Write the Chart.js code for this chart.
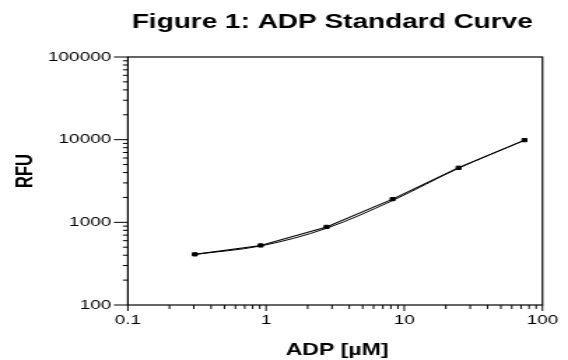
<!DOCTYPE html>
<html>
<head>
<meta charset="utf-8">
<script src="https://cdn.jsdelivr.net/npm/chart.js@4.4.1/dist/chart.umd.min.js"></script>
<style>
  html, body { margin: 0; padding: 0; background: #fff; overflow: hidden; }
</style>
</head>
<body>
<!-- the original figure is stretched sideways, so the canvas is too -->
<canvas id="chart" width="406" height="360" style="display:block;width:568px;height:360px"></canvas>
<script>
const adpConc = [0.305, 0.914, 2.74, 8.23, 24.7, 74.1];
const rfuMeasured = [410, 525, 880, 1910, 4570, 9870];
const rfuFit = [410, 518, 848, 1835, 4520, 9800];
const xTickLabels = ['0.1', '1', '10', '100'];
const yTickLabels = ['100', '1000', '10000', '100000'];
const chartTitle = 'Figure 1: ADP Standard Curve';
const xAxisTitle = 'ADP [µM]';
const yAxisTitle = 'RFU';

const FONT = '"Liberation Sans", Arial, Helvetica, sans-serif';

// decade ticks plus the 2..9 minor ones in between
function logTicks(labels) {
    const ticks = [];
    labels.forEach((lab, i) => {
        const v = parseFloat(lab);
        ticks.push({ value: v, major: true });
        if (i < labels.length - 1) {
            for (let k = 2; k <= 9; k++) {
                ticks.push({ value: +(v * k).toPrecision(6), major: false });
            }
        }
    });
    return ticks;
}

function labelFor(labels) {
    return (value) => labels.find(l => Math.abs(parseFloat(l) - value) < 1e-9 * value) || '';
}

const axisDecor = {
    id: 'axisDecor',
    afterDraw(chart) {
        const ctx = chart.ctx;
        const a = chart.chartArea;
        const xs = chart.scales.x;
        const ys = chart.scales.y;
        ctx.save();
        ctx.strokeStyle = '#000';
        ctx.lineWidth = 1.2;
        ctx.strokeRect(a.left, a.top, a.right - a.left, a.bottom - a.top);

        ctx.lineWidth = 1;
        ctx.beginPath();
        ys.ticks.forEach(t => {
            const y = ys.getPixelForValue(t.value);
            const len = t.major ? 10 : 3.6;
            ctx.moveTo(a.left - len, y);
            ctx.lineTo(a.left, y);
        });
        xs.ticks.forEach(t => {
            const x = xs.getPixelForValue(t.value);
            const len = t.major ? 6 : 4;
            ctx.moveTo(x, a.bottom);
            ctx.lineTo(x, a.bottom + len);
        });
        ctx.stroke();

        ctx.fillStyle = '#000';
        ctx.textAlign = 'center';
        ctx.textBaseline = 'alphabetic';
        ctx.font = 'bold 20px ' + FONT;
        ctx.fillText(chartTitle, 237.5, 28);
        ctx.font = 'bold 16.5px ' + FONT;
        ctx.fillText(xAxisTitle, 241, 355);
        ctx.translate(22.9, 171);
        ctx.rotate(-Math.PI / 2);
        ctx.fillText(yAxisTitle, 0, 0);
        ctx.restore();
    }
};

const ctx = document.getElementById('chart').getContext('2d');
new Chart(ctx, {
    type: 'line',
    data: {
        datasets: [{
            label: 'Measured',
            data: adpConc.map((x, i) => ({ x: x, y: rfuMeasured[i] })),
            borderColor: '#000',
            borderWidth: 1.1,
            pointStyle: 'rect',
            pointRadius: 2.3,
            pointBorderWidth: 1,
            pointBackgroundColor: '#000',
            pointBorderColor: '#000',
            tension: 0
        }, {
            label: 'Fit',
            data: adpConc.map((x, i) => ({ x: x, y: rfuFit[i] })),
            borderColor: '#000',
            borderWidth: 1,
            pointRadius: 0,
            cubicInterpolationMode: 'monotone'
        }]
    },
    options: {
        responsive: false,
        animation: false,
        layout: { padding: { top: 57, right: 13.1, left: 0, bottom: 0 } },
        plugins: {
            legend: { display: false },
            tooltip: { enabled: false },
            title: { display: false }
        },
        scales: {
            x: {
                type: 'logarithmic',
                min: 0.1,
                max: 100,
                grid: { display: false, drawTicks: false },
                border: { display: false },
                ticks: {
                    autoSkip: false,
                    maxRotation: 0,
                    minRotation: 0,
                    padding: 7,
                    color: '#000',
                    font: { family: FONT, size: 13.5 },
                    callback: labelFor(xTickLabels)
                },
                afterBuildTicks: s => { s.ticks = logTicks(xTickLabels); },
                afterFit: s => { s.height = 55; }
            },
            y: {
                type: 'logarithmic',
                min: 100,
                max: 100000,
                grid: { display: false, drawTicks: false },
                border: { display: false },
                ticks: {
                    autoSkip: false,
                    padding: 12,
                    color: '#000',
                    font: { family: FONT, size: 13.5 },
                    callback: labelFor(yTickLabels)
                },
                afterBuildTicks: s => { s.ticks = logTicks(yTickLabels); },
                afterFit: s => { s.width = 91.4; }
            }
        }
    },
    plugins: [axisDecor]
});
</script>
</body>
</html>
